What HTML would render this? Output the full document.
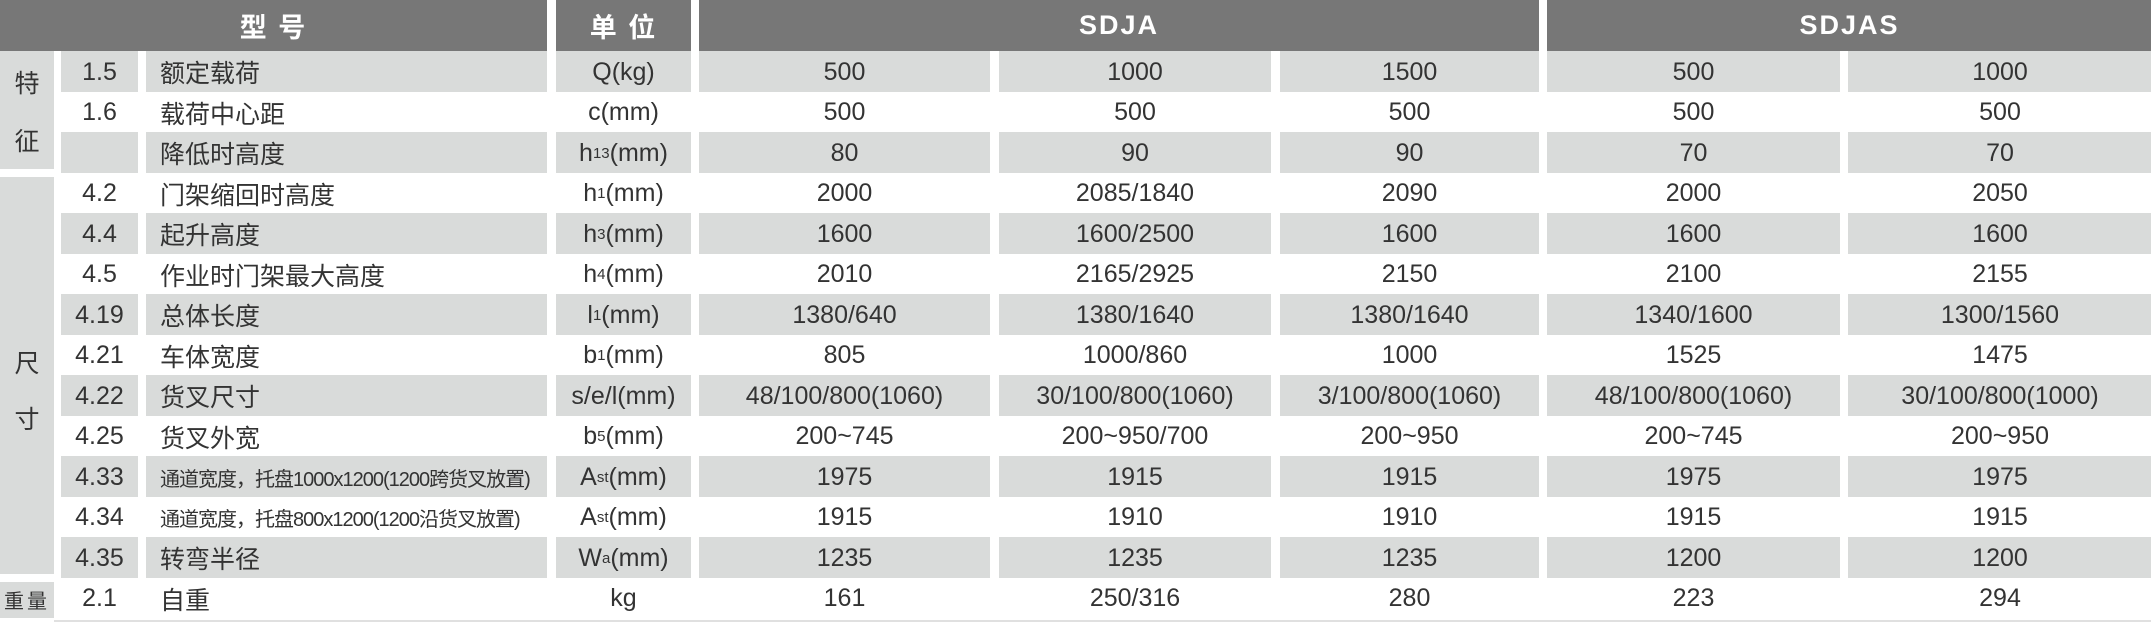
<!DOCTYPE html>
<html><head><meta charset="utf-8">
<style>
*{margin:0;padding:0;box-sizing:border-box}
html,body{width:2151px;height:620px;background:#fff;overflow:hidden}
body{font-family:"Liberation Sans","Noto Sans CJK SC",sans-serif;color:#333}
#g{position:absolute;left:0;top:0;width:2151px;height:620px;display:grid;
grid-template-columns:54px 7px 77px 8px 401px 9px 135px 8px 291px 9px 272px 9px 259px 8px 293px 8px 304px;
grid-template-rows:51px repeat(14,40.5px) 2px 1fr;}
#g>div{display:flex;align-items:center;justify-content:center;font-size:25px;white-space:nowrap;padding-top:2px;overflow:hidden}
.h{background:#777;color:#fff;font-weight:bold;font-size:27px!important;letter-spacing:2px;padding-top:0!important}
.gr{background:#d9dbda}
.n{justify-content:flex-start!important;padding-left:14px;font-size:25px}
.sm{font-size:20px!important;letter-spacing:-1px}
sub{font-size:60%;vertical-align:baseline}
.cat{background:#d9dbda;flex-direction:column;font-size:25px!important}
.cat span{display:block}
.line{background:#e0e0e0}
</style></head><body>
<div id="g">
<div class="h" style="grid-column:1/6;grid-row:1">型 号</div>
<div class="h" style="grid-column:7;grid-row:1">单 位</div>
<div class="h" style="grid-column:9/14;grid-row:1">SDJA</div>
<div class="h" style="grid-column:15/18;grid-row:1">SDJAS</div>

<div class="cat" style="grid-column:1;grid-row:2/5;margin-bottom:4px;gap:22px"><span>特</span><span>征</span></div>
<div class="cat" style="grid-column:1;grid-row:5/15;margin-top:4px;margin-bottom:4px;gap:20px;padding-top:30px!important"><span>尺</span><span>寸</span></div>
<div class="cat" style="grid-column:1;grid-row:15;flex-direction:row;font-size:20px!important;letter-spacing:3px;margin-top:4px;padding-top:0!important">重量</div>

<div class="gr" style="grid-column:3;grid-row:2">1.5</div>
<div class="gr n" style="grid-column:5;grid-row:2">额定载荷</div>
<div class="gr" style="grid-column:7;grid-row:2">Q(kg)</div>
<div class="gr" style="grid-column:9;grid-row:2">500</div>
<div class="gr" style="grid-column:11;grid-row:2">1000</div>
<div class="gr" style="grid-column:13;grid-row:2">1500</div>
<div class="gr" style="grid-column:15;grid-row:2">500</div>
<div class="gr" style="grid-column:17;grid-row:2">1000</div>

<div style="grid-column:3;grid-row:3">1.6</div>
<div class="n" style="grid-column:5;grid-row:3">载荷中心距</div>
<div style="grid-column:7;grid-row:3">c(mm)</div>
<div style="grid-column:9;grid-row:3">500</div>
<div style="grid-column:11;grid-row:3">500</div>
<div style="grid-column:13;grid-row:3">500</div>
<div style="grid-column:15;grid-row:3">500</div>
<div style="grid-column:17;grid-row:3">500</div>

<div class="gr" style="grid-column:3;grid-row:4"></div>
<div class="gr n" style="grid-column:5;grid-row:4">降低时高度</div>
<div class="gr" style="grid-column:7;grid-row:4">h<sub>13</sub>(mm)</div>
<div class="gr" style="grid-column:9;grid-row:4">80</div>
<div class="gr" style="grid-column:11;grid-row:4">90</div>
<div class="gr" style="grid-column:13;grid-row:4">90</div>
<div class="gr" style="grid-column:15;grid-row:4">70</div>
<div class="gr" style="grid-column:17;grid-row:4">70</div>

<div style="grid-column:3;grid-row:5">4.2</div>
<div class="n" style="grid-column:5;grid-row:5">门架缩回时高度</div>
<div style="grid-column:7;grid-row:5">h<sub>1</sub>(mm)</div>
<div style="grid-column:9;grid-row:5">2000</div>
<div style="grid-column:11;grid-row:5">2085/1840</div>
<div style="grid-column:13;grid-row:5">2090</div>
<div style="grid-column:15;grid-row:5">2000</div>
<div style="grid-column:17;grid-row:5">2050</div>

<div class="gr" style="grid-column:3;grid-row:6">4.4</div>
<div class="gr n" style="grid-column:5;grid-row:6">起升高度</div>
<div class="gr" style="grid-column:7;grid-row:6">h<sub>3</sub>(mm)</div>
<div class="gr" style="grid-column:9;grid-row:6">1600</div>
<div class="gr" style="grid-column:11;grid-row:6">1600/2500</div>
<div class="gr" style="grid-column:13;grid-row:6">1600</div>
<div class="gr" style="grid-column:15;grid-row:6">1600</div>
<div class="gr" style="grid-column:17;grid-row:6">1600</div>

<div style="grid-column:3;grid-row:7">4.5</div>
<div class="n" style="grid-column:5;grid-row:7">作业时门架最大高度</div>
<div style="grid-column:7;grid-row:7">h<sub>4</sub>(mm)</div>
<div style="grid-column:9;grid-row:7">2010</div>
<div style="grid-column:11;grid-row:7">2165/2925</div>
<div style="grid-column:13;grid-row:7">2150</div>
<div style="grid-column:15;grid-row:7">2100</div>
<div style="grid-column:17;grid-row:7">2155</div>

<div class="gr" style="grid-column:3;grid-row:8">4.19</div>
<div class="gr n" style="grid-column:5;grid-row:8">总体长度</div>
<div class="gr" style="grid-column:7;grid-row:8">l<sub>1</sub>(mm)</div>
<div class="gr" style="grid-column:9;grid-row:8">1380/640</div>
<div class="gr" style="grid-column:11;grid-row:8">1380/1640</div>
<div class="gr" style="grid-column:13;grid-row:8">1380/1640</div>
<div class="gr" style="grid-column:15;grid-row:8">1340/1600</div>
<div class="gr" style="grid-column:17;grid-row:8">1300/1560</div>

<div style="grid-column:3;grid-row:9">4.21</div>
<div class="n" style="grid-column:5;grid-row:9">车体宽度</div>
<div style="grid-column:7;grid-row:9">b<sub>1</sub>(mm)</div>
<div style="grid-column:9;grid-row:9">805</div>
<div style="grid-column:11;grid-row:9">1000/860</div>
<div style="grid-column:13;grid-row:9">1000</div>
<div style="grid-column:15;grid-row:9">1525</div>
<div style="grid-column:17;grid-row:9">1475</div>

<div class="gr" style="grid-column:3;grid-row:10">4.22</div>
<div class="gr n" style="grid-column:5;grid-row:10">货叉尺寸</div>
<div class="gr" style="grid-column:7;grid-row:10">s/e/l(mm)</div>
<div class="gr" style="grid-column:9;grid-row:10">48/100/800(1060)</div>
<div class="gr" style="grid-column:11;grid-row:10">30/100/800(1060)</div>
<div class="gr" style="grid-column:13;grid-row:10">3/100/800(1060)</div>
<div class="gr" style="grid-column:15;grid-row:10">48/100/800(1060)</div>
<div class="gr" style="grid-column:17;grid-row:10">30/100/800(1000)</div>

<div style="grid-column:3;grid-row:11">4.25</div>
<div class="n" style="grid-column:5;grid-row:11">货叉外宽</div>
<div style="grid-column:7;grid-row:11">b<sub>5</sub>(mm)</div>
<div style="grid-column:9;grid-row:11">200~745</div>
<div style="grid-column:11;grid-row:11">200~950/700</div>
<div style="grid-column:13;grid-row:11">200~950</div>
<div style="grid-column:15;grid-row:11">200~745</div>
<div style="grid-column:17;grid-row:11">200~950</div>

<div class="gr" style="grid-column:3;grid-row:12">4.33</div>
<div class="gr n sm" style="grid-column:5;grid-row:12">通道宽度，托盘1000x1200(1200跨货叉放置)</div>
<div class="gr" style="grid-column:7;grid-row:12">A<sub>st</sub>(mm)</div>
<div class="gr" style="grid-column:9;grid-row:12">1975</div>
<div class="gr" style="grid-column:11;grid-row:12">1915</div>
<div class="gr" style="grid-column:13;grid-row:12">1915</div>
<div class="gr" style="grid-column:15;grid-row:12">1975</div>
<div class="gr" style="grid-column:17;grid-row:12">1975</div>

<div style="grid-column:3;grid-row:13">4.34</div>
<div class="n sm" style="grid-column:5;grid-row:13">通道宽度，托盘800x1200(1200沿货叉放置)</div>
<div style="grid-column:7;grid-row:13">A<sub>st</sub>(mm)</div>
<div style="grid-column:9;grid-row:13">1915</div>
<div style="grid-column:11;grid-row:13">1910</div>
<div style="grid-column:13;grid-row:13">1910</div>
<div style="grid-column:15;grid-row:13">1915</div>
<div style="grid-column:17;grid-row:13">1915</div>

<div class="gr" style="grid-column:3;grid-row:14">4.35</div>
<div class="gr n" style="grid-column:5;grid-row:14">转弯半径</div>
<div class="gr" style="grid-column:7;grid-row:14">W<sub>a</sub>(mm)</div>
<div class="gr" style="grid-column:9;grid-row:14">1235</div>
<div class="gr" style="grid-column:11;grid-row:14">1235</div>
<div class="gr" style="grid-column:13;grid-row:14">1235</div>
<div class="gr" style="grid-column:15;grid-row:14">1200</div>
<div class="gr" style="grid-column:17;grid-row:14">1200</div>

<div style="grid-column:3;grid-row:15">2.1</div>
<div class="n" style="grid-column:5;grid-row:15">自重</div>
<div style="grid-column:7;grid-row:15">kg</div>
<div style="grid-column:9;grid-row:15">161</div>
<div style="grid-column:11;grid-row:15">250/316</div>
<div style="grid-column:13;grid-row:15">280</div>
<div style="grid-column:15;grid-row:15">223</div>
<div style="grid-column:17;grid-row:15">294</div>

<div class="line" style="grid-column:2/18;grid-row:17"></div>
</div>
</body></html>
